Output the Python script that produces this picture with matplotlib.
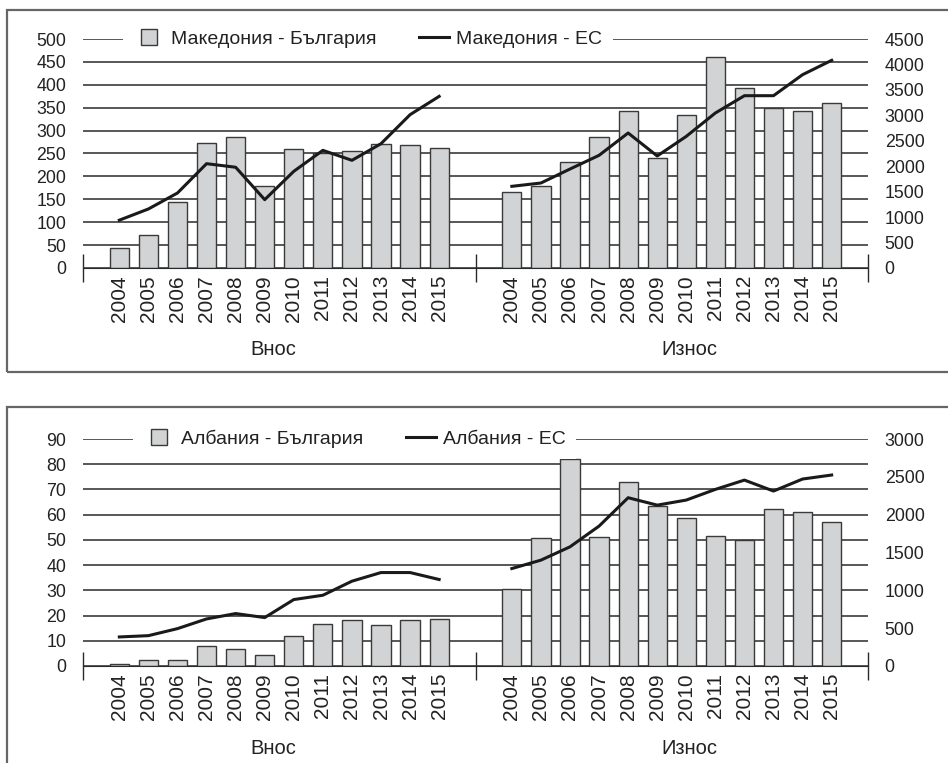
import matplotlib.pyplot as plt
from matplotlib.lines import Line2D
from matplotlib.patches import Rectangle

plt.rcParams['font.family'] = ['Liberation Sans', 'DejaVu Sans']

years = ['2004', '2005', '2006', '2007', '2008', '2009', '2010', '2011', '2012', '2013', '2014', '2015']
groups = ['Внос', 'Износ']

# Македония
mk_bg_vnos = [44, 71, 144, 274, 287, 180, 259, 252, 255, 271, 269, 261]
mk_bg_iznos = [167, 180, 231, 287, 342, 240, 333, 461, 392, 350, 342, 360]
mk_eu_vnos = [940, 1160, 1474, 2050, 1980, 1343, 1900, 2312, 2116, 2443, 3013, 3373]
mk_eu_iznos = [1605, 1670, 1945, 2214, 2653, 2201, 2587, 3046, 3386, 3386, 3799, 4081]

# Албания
al_bg_vnos = [0.9, 2.4, 2.4, 7.8, 6.9, 4.4, 12.0, 16.8, 18.4, 16.4, 18.4, 18.7]
al_bg_iznos = [30.6, 50.6, 82.1, 51.0, 72.9, 63.5, 58.6, 51.5, 49.9, 62.1, 61.1, 57.0]
al_eu_vnos = [384, 401, 494, 622, 693, 640, 878, 935, 1121, 1235, 1235, 1143]
al_eu_iznos = [1288, 1399, 1575, 1849, 2224, 2126, 2193, 2334, 2457, 2312, 2471, 2524]

fig = plt.figure(figsize=(9.48, 7.63), dpi=100)

# рамки
fig.add_artist(Rectangle((7 / 948, 1 - 372 / 763), 1.2, (372 - 10) / 763,
                         transform=fig.transFigure, fill=False, ec='#666666', lw=1.6))
fig.add_artist(Rectangle((7 / 948, -0.2), 1.2, 0.2 + (763 - 407) / 763,
                         transform=fig.transFigure, fill=False, ec='#666666', lw=1.6))

bar_col = '#d1d3d4'
edge_col = '#3a3a3a'
grid_col = '#2a2a2a'
txt_col = '#222222'

xl = [1.25 + i for i in range(len(years))]
xr = [14.75 + i for i in range(len(years))]


def panel(rect, bg_v, bg_i, eu_v, eu_i, ymax, ystep, y2max, y2step, lab_bg, lab_eu, leg_x, lab_y):
    ax = fig.add_axes(rect)
    ax2 = ax.twinx()
    ax.bar(xl, bg_v, width=0.66, color=bar_col, edgecolor=edge_col, lw=1, zorder=3)
    ax.bar(xr, bg_i, width=0.66, color=bar_col, edgecolor=edge_col, lw=1, zorder=3)
    ax2.plot(xl, eu_v, color='#1a1a1a', lw=2.2, solid_joinstyle='round')
    ax2.plot(xr, eu_i, color='#1a1a1a', lw=2.2, solid_joinstyle='round')

    ax.set_xlim(0, 27)
    ax.set_ylim(0, ymax)
    ax2.set_ylim(0, y2max)
    ax.set_yticks(range(0, ymax + 1, ystep))
    ax2.set_yticks(range(0, y2max + 1, y2step))
    ax.yaxis.grid(True, color=grid_col, lw=1.1)
    ax.set_axisbelow(True)
    for a in (ax, ax2):
        for s in a.spines.values():
            s.set_visible(False)
        a.tick_params(axis='y', length=0, pad=12, labelsize=12.8, labelcolor=txt_col)
    ax.spines['bottom'].set_visible(True)
    ax.spines['bottom'].set_color(grid_col)
    ax.spines['bottom'].set_zorder(4)

    ax.set_xticks([0, 13.5, 27])
    ax.set_xticklabels(['', '', ''])
    ax.tick_params(axis='x', which='major', direction='inout', length=20, width=1, color=grid_col)
    ax.set_xticks(xl + xr, minor=True)
    ax.set_xticklabels(years + years, minor=True, rotation=90, fontsize=15, color=txt_col)
    ax.tick_params(axis='x', which='minor', length=0, pad=5)

    ax.text(6.54, lab_y, groups[0], transform=ax.get_xaxis_transform(), ha='center', va='center',
            fontsize=14.5, color=txt_col)
    ax.text(20.86, lab_y, groups[1], transform=ax.get_xaxis_transform(), ha='center', va='center',
            fontsize=14.5, color=txt_col)

    handles = [Line2D([], [], marker='s', ls='none', ms=11.5, mfc=bar_col, mec=edge_col, mew=1),
               Line2D([], [], color='#1a1a1a', lw=2.2)]
    leg = ax2.legend(handles, [lab_bg, lab_eu], loc='center left', bbox_to_anchor=(leg_x, 1.0),
                     ncol=2, frameon=True, fancybox=False, framealpha=1, edgecolor='none',
                     fontsize=14, handlelength=1.55, handletextpad=0.36, columnspacing=2.2,
                     borderpad=0.55, borderaxespad=0)
    for t in leg.get_texts():
        t.set_color(txt_col)
    leg.get_frame().set_facecolor('white')


panel([83 / 948, 1 - 268 / 763, 785 / 948, 229 / 763], mk_bg_vnos, mk_bg_iznos, mk_eu_vnos, mk_eu_iznos,
      500, 50, 4500, 500, 'Македония - България', 'Македония - ЕС', 0.051, -82 / 229)
panel([83 / 948, 1 - 666 / 763, 785 / 948, 227 / 763], al_bg_vnos, al_bg_iznos, al_eu_vnos, al_eu_iznos,
      90, 10, 3000, 500, 'Албания - България', 'Албания - ЕС', 0.0637, -82 / 227)

fig.savefig('out.png', dpi=100)
